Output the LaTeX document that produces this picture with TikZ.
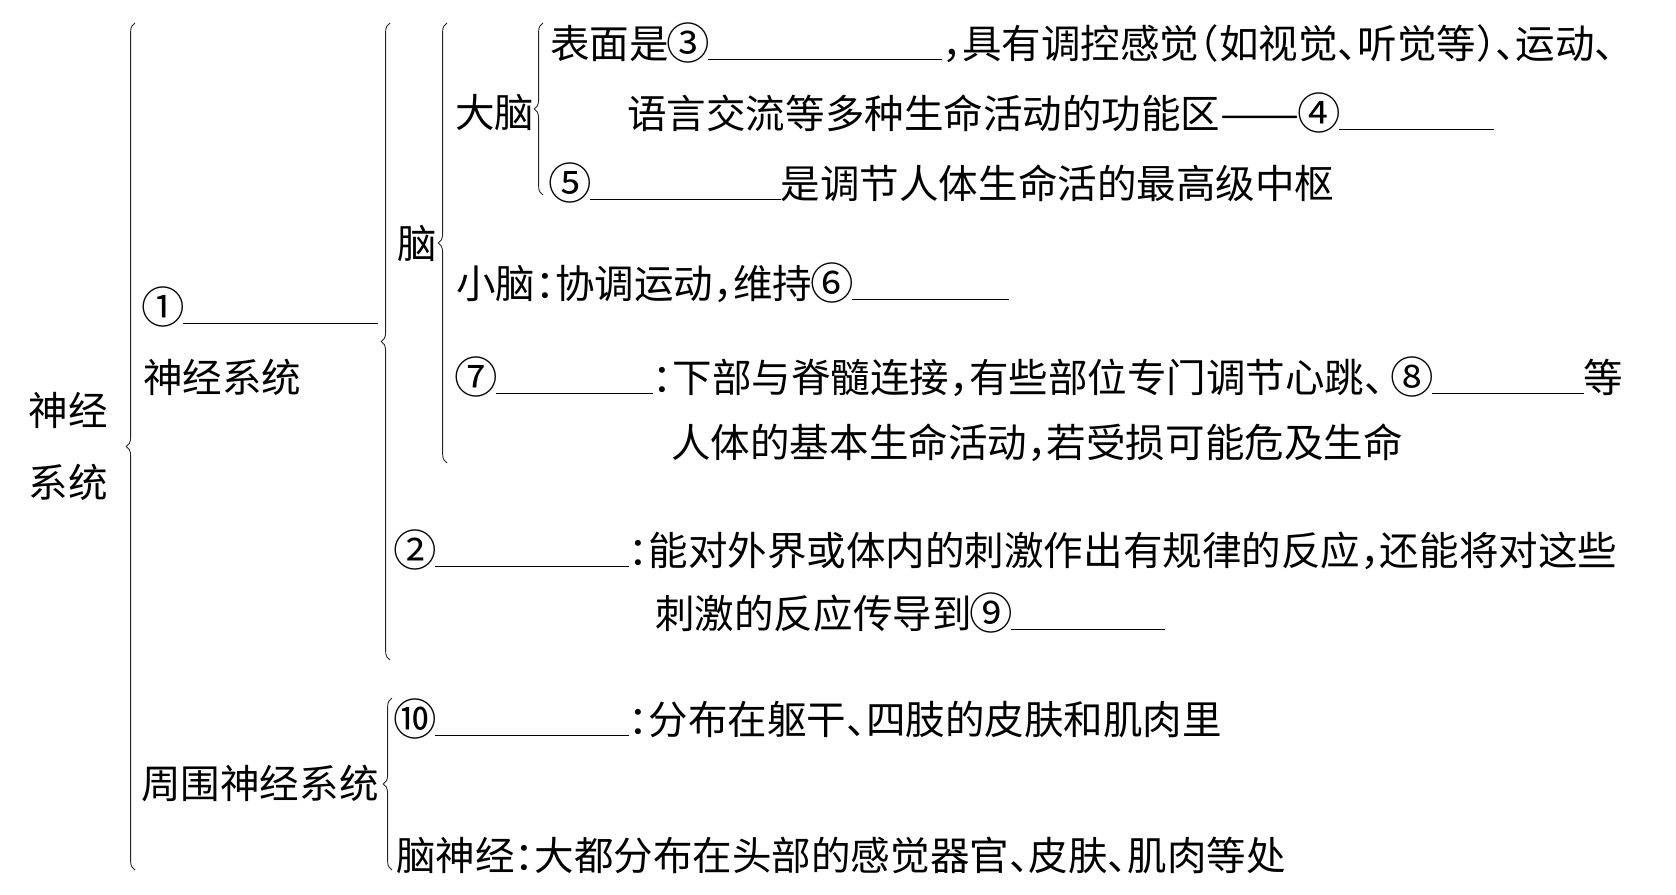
\documentclass[tikz,border=0pt]{standalone}
\usepackage{fontspec,graphicx}
\setmainfont{Noto Sans CJK SC}
\usetikzlibrary{decorations.pathreplacing}
\newcommand{\blank}[1]{\rule[-0.05em]{#1}{0.5pt}}
\newcommand{\pl}[1]{\makebox[0.5em][l]{#1}}
\newcommand{\pr}[1]{\makebox[0.5em][r]{#1}}
\newcommand{\cnum}[1]{\makebox[1em]{\raisebox{-0.04em}{\scalebox{1.1}{#1}}}}

\begin{document}
\begin{tikzpicture}[x=0.02cm,y=-0.02cm,
  txt/.style={anchor=base west,inner sep=0pt,font=\fontsize{22.5pt}{27pt}\selectfont},
  brc/.style={decorate,decoration={brace,amplitude=5pt},line width=0.5pt,black!85}
]
  \useasboundingbox (0,0) rectangle (1676,894);

  % Braces
  \coordinate (all-t) at (135,23);  \coordinate (all-b) at (135,870);
  \coordinate (cns-t) at (390,23);  \coordinate (cns-b) at (390,660);
  \coordinate (brain-t) at (447,23); \coordinate (brain-b) at (447,463);
  \coordinate (big-t) at (543,23);  \coordinate (big-b) at (543,195);
  \coordinate (pns-t) at (392,698); \coordinate (pns-b) at (392,870);
  \draw[brc] (all-b) -- (all-t);
  \draw[brc] (cns-b) -- (cns-t);
  \draw[brc] (brain-b) -- (brain-t);
  \draw[brc] (big-b) -- (big-t);
  \draw[brc] (pns-b) -- (pns-t);

  % Left column
  \node[anchor=east,inner sep=0pt,align=center,font=\fontsize{22.5pt}{41pt}\selectfont]
    (sys) at (108,446) {神经\\系统};
  \node[txt] (cns1) at (143,322) {\cnum{①}\blank{3.9cm}};
  \node[txt] (cns2) at (143,392) {神经系统};
  \node[txt] (pns) at (141,798) {周围神经系统};

  % Brain
  \node[txt] (brain) at (397,258) {脑};
  \node[txt] (cereb) at (455,127) {大脑};
  \node[txt] (c1) at (550,58) {表面是\cnum{③}\blank{4.68cm}\pl{，}具有调控感觉\pr{（}如视觉\pl{、}听觉等\pl{）}\pl{、}运动\pl{、}};
  \node[txt] (c2) at (627,128) {语言交流等多种生命活动的功能区\resizebox{2em}{\height}{——}\cnum{④}\blank{3.1cm}};
  \node[txt] (c3) at (550,198) {\cnum{⑤}\blank{3.82cm}是调节人体生命活的最高级中枢};
  \node[txt] (cb) at (456,298) {小脑\pl{：}协调运动\pl{，}维持\cnum{⑥}\blank{3.14cm}};
  \node[txt] (bs1) at (456,392) {\cnum{⑦}\blank{3.14cm}\pl{：}下部与脊髓连接\pl{，}有些部位专门调节心跳、\hspace{-0.3em}\cnum{⑧}\blank{3.04cm}等};
  \node[txt] (bs2) at (671,457) {人体的基本生命活动\pl{，}若受损可能危及生命};

  % Spinal cord
  \node[txt] (sc1) at (395,565) {\cnum{②}\blank{3.88cm}\pl{：}能对外界或体内的刺激作出有规律的反应\pl{，}还能将对这些};
  \node[txt] (sc2) at (655,628) {刺激的反应传导到\cnum{⑨}\blank{3.08cm}};

  % Peripheral
  \node[txt] (sn) at (395,734) {\cnum{⑩}\blank{3.88cm}\pl{：}分布在躯干\pl{、}四肢的皮肤和肌肉里};
  \node[txt] (cn) at (396,870) {脑神经\pl{：}大都分布在头部的感觉器官\pl{、}皮肤\pl{、}肌肉等处};
\end{tikzpicture}
\end{document}
